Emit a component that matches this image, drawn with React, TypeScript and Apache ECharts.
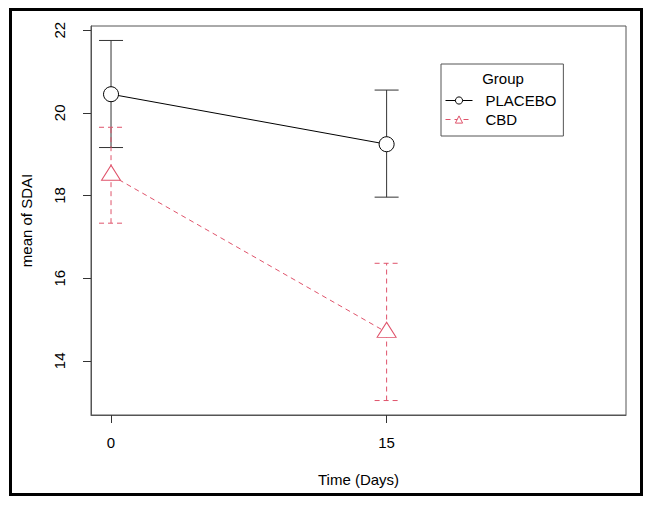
import React, { useEffect, useRef } from "react";
import * as echarts from "echarts";

// ---- data ----
const days = [0, 15];
const placeboMean = [20.45, 19.24];
const placeboLow = [19.16, 17.96];
const placeboHigh = [21.75, 20.55];
const cbdMean = [18.49, 14.69];
const cbdLow = [17.33, 13.04];
const cbdHigh = [19.65, 16.36];
const xTicks = [0, 15];
const yTicks = [14, 16, 18, 20, 22];
const groupNames = ["PLACEBO", "CBD"];

const FONT = "'Liberation Sans', Arial, Helvetica, sans-serif";
const PINK = "#DF536B";

function errorBarSeries(name: string, low: number[], high: number[], color: string, dashed: boolean) {
  const data = days.map((d, i) => [d, low[i], high[i]]);
  return {
    type: "custom",
    name,
    z: 1,
    silent: true,
    encode: { x: 0, y: [1, 2] },
    data,
    renderItem: (params: any, api: any) => {
      const x = api.value(0);
      const pLo = api.coord([x, api.value(1)]);
      const pHi = api.coord([x, api.value(2)]);
      const w = 12;
      const style = {
        stroke: color,
        lineWidth: 1,
        lineDash: dashed ? [5, 4] : null,
        fill: null,
      };
      return {
        type: "group",
        children: [
          { type: "line", shape: { x1: pLo[0], y1: pLo[1], x2: pHi[0], y2: pHi[1] }, style },
          { type: "line", shape: { x1: pHi[0] - w, y1: pHi[1], x2: pHi[0] + w, y2: pHi[1] }, style },
          { type: "line", shape: { x1: pLo[0] - w, y1: pLo[1], x2: pLo[0] + w, y2: pLo[1] }, style },
        ],
      };
    },
  };
}

export default function App() {
  const ref = useRef<HTMLDivElement>(null);
  useEffect(() => {
    if (!ref.current) return;
    const chart = echarts.init(ref.current, null, { renderer: "svg" });
    chart.setOption({
      animation: false,
      backgroundColor: "#fff",
      textStyle: { fontFamily: FONT },
      grid: {
        left: 91,
        right: 27,
        top: 26,
        bottom: 90,
        show: true,
        borderColor: "#555",
        borderWidth: 1,
        backgroundColor: "transparent",
      },
      xAxis: {
        type: "value",
        min: -1.09,
        max: 28.03,
        name: "Time (Days)",
        nameLocation: "middle",
        nameGap: 57,
        nameTextStyle: { fontSize: 15, color: "#000", fontFamily: FONT },
        axisLine: { show: true, onZero: false, lineStyle: { color: "#555", width: 1 } },
        axisTick: { show: true, length: 8, customValues: xTicks, lineStyle: { color: "#333" } },
        axisLabel: { customValues: xTicks, margin: 20, fontSize: 15, color: "#000", fontFamily: FONT },
        splitLine: { show: false },
      },
      yAxis: {
        type: "value",
        min: 12.69,
        max: 22.1,
        position: "left",
        name: "mean of SDAI",
        nameLocation: "middle",
        nameGap: 57,
        nameTextStyle: { fontSize: 15, color: "#000", fontFamily: FONT },
        axisLine: { show: true, onZero: false, lineStyle: { color: "#555", width: 1 } },
        axisTick: { show: true, inside: false, length: 8, customValues: yTicks, lineStyle: { color: "#333", width: 1 } },
        axisLabel: { customValues: yTicks, rotate: 90, margin: 24, fontSize: 15, color: "#000", fontFamily: FONT },
        splitLine: { show: false },
      },
      legend: {
        data: groupNames,
        orient: "vertical",
        left: 441,
        top: 64,
        padding: [29, 7, 9, 4],
        itemWidth: 27,
        itemHeight: 9,
        itemGap: 4,
        borderColor: "#555",
        borderWidth: 1,
        lineStyle: { width: 1 },
        itemStyle: { borderWidth: 1 },
        textStyle: { fontSize: 15, color: "#000", fontFamily: FONT, padding: [0, 0, 0, 8] },
      },
      graphic: [
        {
          type: "rect",
          shape: { x: 10.5, y: 9.5, width: 631, height: 485 },
          style: { fill: null, stroke: "#000", lineWidth: 3 },
          silent: true,
        },
        {
          type: "text",
          x: 503,
          y: 78,
          style: {
            text: "Group",
            fontSize: 15,
            fontFamily: FONT,
            fill: "#000",
            textAlign: "center",
            textVerticalAlign: "middle",
          },
        },
      ],
      series: [
        errorBarSeries("PLACEBO_err", placeboLow, placeboHigh, "#333", false),
        errorBarSeries("CBD_err", cbdLow, cbdHigh, PINK, true),
        {
          type: "line",
          name: "PLACEBO",
          z: 3,
          data: days.map((d, i) => [d, placeboMean[i]]),
          symbol: "circle",
          symbolSize: 15,
          showAllSymbol: true,
          itemStyle: { color: "#fff", borderColor: "#000", borderWidth: 1 },
          lineStyle: { color: "#000", width: 1 },
        },
        {
          type: "line",
          name: "CBD",
          z: 3,
          data: days.map((d, i) => [d, cbdMean[i]]),
          symbol: "triangle",
          symbolSize: [19, 15],
          symbolOffset: [0, -2.5],
          showAllSymbol: true,
          itemStyle: { color: "#fff", borderColor: PINK, borderWidth: 1 },
          lineStyle: { color: PINK, width: 1, type: [5, 4] },
        },
      ],
    });
    return () => chart.dispose();
  }, []);
  return (
    <div
      ref={ref}
      style={{ position: "absolute", left: 0, top: 0, width: 653, height: 505 }}
    />
  );
}
